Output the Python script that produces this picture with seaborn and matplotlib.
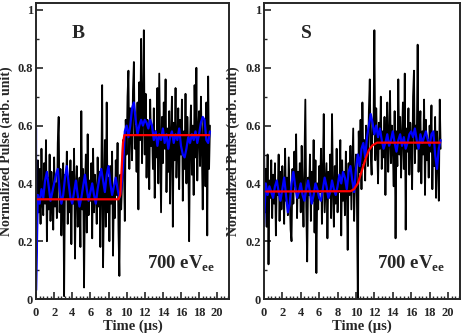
import numpy as np
import matplotlib
matplotlib.use("Agg")
import matplotlib.pyplot as plt
import seaborn as sns
from matplotlib.ticker import MultipleLocator

# raw pulse, sampled every 0.1 us from 0 to 19.2 us
pulse_B = [
    0.41, 0.22, 0.48, 0.30, 0.45, 0.26, 0.52, 0.34, 0.29, 0.47,
    0.33, 0.55, 0.20, 0.42, 0.31, 0.50, 0.27, 0.44, 0.36, 0.24,
    0.49, 0.32, 0.40, 0.28, 0.54, 0.63, 0.30, 0.45, 0.22, 0.38,
    0.47, 0.01, 0.43, 0.35, 0.51, 0.26, 0.40, 0.30, 0.48, 0.19,
    0.44, 0.33, 0.52, 0.14, 0.39, 0.46, 0.25, 0.36, 0.42, 0.18,
    0.65, 0.31, 0.45, 0.04, 0.38, 0.50, 0.23, 0.57, 0.29, 0.41,
    0.34, 0.47, 0.21, 0.52, 0.30, 0.43, 0.37, 0.26, 0.49, 0.32,
    0.44, 0.18, 0.40, 0.74, 0.11, 0.36, 0.55, 0.25, 0.68, 0.30,
    0.42, 0.20, 0.46, 0.33, 0.51, 0.15, 0.39, 0.28, 0.48, 0.36,
    0.54, 0.24, 0.08, 0.43, 0.31, 0.40, 0.55, 0.46, 0.27, 0.62,
    0.50, 0.70, 0.79, 0.45, 0.66, 0.58, 0.48, 0.72, 0.82, 0.52,
    0.60, 0.44, 0.68, 0.31, 0.75, 0.55, 0.90, 0.47, 0.64, 0.93,
    0.50, 0.71, 0.42, 0.62, 0.56, 0.38, 0.69, 0.53, 0.60, 0.45,
    0.66, 0.35, 0.58, 0.49, 0.73, 0.40, 0.78, 0.54, 0.30, 0.63,
    0.47, 0.68, 0.52, 0.76, 0.37, 0.59, 0.44, 0.65, 0.33, 0.57,
    0.70, 0.25, 0.61, 0.48, 0.73, 0.42, 0.55, 0.66, 0.38, 0.62,
    0.50, 0.69, 0.34, 0.58, 0.45, 0.71, 0.40, 0.63, 0.52, 0.20,
    0.56, 0.67, 0.43, 0.60, 0.36, 0.74, 0.49, 0.80, 0.41, 0.58,
    0.65, 0.46, 0.70, 0.53, 0.31, 0.62, 0.57, 0.39, 0.68, 0.22,
    0.77, 0.45, 0.60,
]
pulse_S = [
    0.58, 0.30, 0.45, 0.25, 0.50, 0.12, 0.41, 0.35, 0.48, 0.28,
    0.43, 0.33, 0.47, 0.22, 0.40, 0.36, 0.50, 0.27, 0.44, 0.31,
    0.46, 0.38, 0.26, 0.52, 0.34, 0.42, 0.29, 0.49, 0.37, 0.24,
    0.20, 0.45, 0.33, 0.51, 0.39, 0.57, 0.28, 0.44, 0.35, 0.47,
    0.30, 0.53, 0.38, 0.25, 0.46, 0.69, 0.32, 0.13, 0.42, 0.36,
    0.50, 0.27, 0.44, 0.34, 0.55, 0.23, 0.48, 0.09, 0.40, 0.31,
    0.46, 0.37, 0.52, 0.26, 0.43, 0.64, 0.30, 0.39, 0.47, 0.21,
    0.44, 0.35, 0.50, 0.28, 0.64, 0.38, 0.25, 0.46, 0.33, 0.52,
    0.30, 0.42, 0.37, 0.55, 0.22, 0.48, 0.34, 0.44, 0.29, 0.51,
    0.40, 0.17, 0.47, 0.36, 0.53, 0.31, 0.45, 0.59, 0.27, 0.42,
    0.50, 0.35, 0.00, 0.58, 0.44, 0.62, 0.38, 0.68, 0.47, 0.55,
    0.41, 0.60, 0.52, 0.46, 0.65, 0.76, 0.50, 0.43, 0.62, 0.57,
    0.93, 0.48, 0.66, 0.54, 0.40, 0.61, 0.52, 0.70, 0.45, 0.58,
    0.49, 0.63, 0.36, 0.57, 0.68, 0.44, 0.55, 0.72, 0.47, 0.60,
    0.52, 0.39, 0.65, 0.21, 0.58, 0.46, 0.76, 0.50, 0.63, 0.42,
    0.56, 0.68, 0.45, 0.78, 0.24, 0.59, 0.51, 0.66, 0.43, 0.61,
    0.54, 0.38, 0.70, 0.79, 0.47, 0.60, 0.52, 0.88, 0.44, 0.57,
    0.65, 0.40, 0.58, 0.50, 0.69, 0.36, 0.62, 0.48, 0.55, 0.42,
    0.60, 0.51, 0.67, 0.38, 0.56, 0.46, 0.63, 0.35, 0.58, 0.49,
    0.34, 0.69, 0.52,
]

# smoothed pulse, every 0.2 us from 0.2 to 19.2 us (plus the edge at t=0)
smooth_B_edge = [0.59, 0.03]
smooth_B = [
    0.36, 0.33, 0.38, 0.35, 0.41, 0.44, 0.39, 0.34, 0.37,
    0.40, 0.43, 0.45, 0.38, 0.33, 0.36, 0.42, 0.46, 0.40, 0.35,
    0.33, 0.37, 0.41, 0.36, 0.32, 0.35, 0.39, 0.43, 0.38, 0.34,
    0.37, 0.40, 0.36, 0.33, 0.38, 0.42, 0.45, 0.41, 0.37, 0.43,
    0.46, 0.40, 0.36, 0.39, 0.42, 0.38, 0.35,
    0.38, 0.45, 0.58,
    0.60, 0.56, 0.60, 0.66, 0.68,
    0.62, 0.57, 0.60, 0.62, 0.60,
    0.62, 0.61, 0.59, 0.62, 0.60,
    0.55, 0.58, 0.53, 0.57, 0.55,
    0.59, 0.54, 0.57, 0.52, 0.56,
    0.58, 0.54, 0.57, 0.55, 0.59,
    0.53, 0.50, 0.49, 0.52, 0.56,
    0.54, 0.57, 0.55, 0.58, 0.54,
    0.57, 0.61, 0.63, 0.62, 0.55,
    0.54, 0.58,
]
smooth_S_edge = [0.58, 0.25]
smooth_S = [
    0.40, 0.36, 0.39, 0.37, 0.35, 0.39, 0.41, 0.37, 0.34,
    0.38, 0.42, 0.36, 0.30, 0.33, 0.40, 0.44, 0.39, 0.35, 0.37,
    0.40, 0.36, 0.34, 0.38, 0.41, 0.37, 0.33, 0.36, 0.40, 0.38,
    0.35, 0.34, 0.38, 0.42, 0.39, 0.35, 0.37, 0.41, 0.38, 0.36,
    0.39, 0.43, 0.40, 0.44, 0.42, 0.38, 0.44, 0.46, 0.41, 0.37,
    0.45, 0.50, 0.46, 0.52, 0.54, 0.49, 0.56, 0.60, 0.64, 0.61,
    0.57, 0.60, 0.56, 0.59, 0.55, 0.52, 0.54, 0.57, 0.53, 0.55,
    0.58, 0.54, 0.51, 0.55, 0.57, 0.53, 0.56, 0.52, 0.54, 0.57,
    0.58, 0.56, 0.59, 0.55, 0.52, 0.57, 0.54, 0.56, 0.58, 0.55,
    0.53, 0.57, 0.58, 0.50, 0.45, 0.52, 0.55,
]

# step fits
fit_B_t = [0.15, 9.1, 9.3, 9.45, 9.6, 9.75, 19.1]
fit_B = [0.345, 0.345, 0.36, 0.45, 0.54, 0.567, 0.567]
fit_S_t = [0.25, 9.4, 9.8, 10.2, 10.5, 10.8, 11.1, 11.4, 11.8, 12.3, 19.1]
fit_S = [0.372, 0.373, 0.38, 0.40, 0.43, 0.46, 0.49, 0.515, 0.532, 0.541, 0.541]

panels = ["B", "S"]

sns.set_style("ticks")
plt.rcParams["font.family"] = ["Liberation Serif", "DejaVu Serif"]
plt.rcParams["font.weight"] = "bold"
plt.rcParams["mathtext.fontset"] = "custom"
plt.rcParams["mathtext.bf"] = "Liberation Serif:bold"
plt.rcParams["mathtext.rm"] = "Liberation Serif:bold"

fig = plt.figure(figsize=(4.63, 3.33), dpi=100)
ax_l = fig.add_axes([0.0778, 0.102, 0.4168, 0.888])
ax_r = fig.add_axes([0.570, 0.102, 0.4235, 0.888])

data = {
    "B": (pulse_B, smooth_B_edge, smooth_B, fit_B_t, fit_B),
    "S": (pulse_S, smooth_S_edge, smooth_S, fit_S_t, fit_S),
}

for ax, name in zip([ax_l, ax_r], panels):
    pulse, edge, smooth, fit_t, fit = data[name]
    t_raw = np.round(0.1 * np.arange(len(pulse)), 2)
    t_smooth = np.concatenate([[0.0, 0.0], np.round(0.2 * np.arange(1, len(smooth) + 1), 2)])
    y_smooth = np.concatenate([edge, smooth])

    sns.lineplot(x=t_raw, y=pulse, ax=ax, color="black", lw=1.3,
                 estimator=None, sort=False)
    sns.lineplot(x=t_smooth, y=y_smooth, ax=ax, color="#0000ff", lw=1.6,
                 estimator=None, sort=False)
    sns.lineplot(x=fit_t, y=fit, ax=ax, color="#ff0000", lw=1.6,
                 estimator=None, sort=False)

    ax.set_xlim(0, 21.3)
    ax.set_ylim(0, 1.023)
    ax.xaxis.set_major_locator(MultipleLocator(2))
    ax.xaxis.set_minor_locator(MultipleLocator(0.4))
    ax.yaxis.set_major_locator(MultipleLocator(0.2))
    ax.yaxis.set_minor_locator(MultipleLocator(0.1))
    ax.set_yticks([0, 0.2, 0.4, 0.6, 0.8, 1.0])
    ax.set_yticklabels(["0", "0.2", "0.4", "0.6", "0.8", "1"])
    ax.tick_params(which="major", direction="in", length=5, width=1.2,
                   labelsize=9)
    ax.tick_params(axis="x", which="major", pad=6)
    ax.tick_params(axis="y", which="major", pad=2)
    ax.tick_params(which="minor", direction="in", length=2.5, width=1.0)
    for lab in ax.get_xticklabels() + ax.get_yticklabels():
        lab.set_fontweight("bold")
    for sp in ax.spines.values():
        sp.set_visible(True)
        sp.set_linewidth(1.4)

    ax.set_xlabel("Time (\u00b5s)", fontsize=10.5, fontweight="bold", labelpad=0)
    ax.set_ylabel("Normalized Pulse (arb. unit)", fontsize=10,
                  fontweight="bold")
    ax.yaxis.set_label_coords(-0.12, 0.5)
    ax.text(4.6, 0.92, name, fontsize=14, fontweight="bold",
            ha="center", va="center")
    ax.text(16.0, 0.12, "700 eV$_{\\mathbf{ee}}$", fontsize=13.5,
            fontweight="bold", ha="center", va="center")

fig.savefig("out.png", dpi=100)
plt.close(fig)
